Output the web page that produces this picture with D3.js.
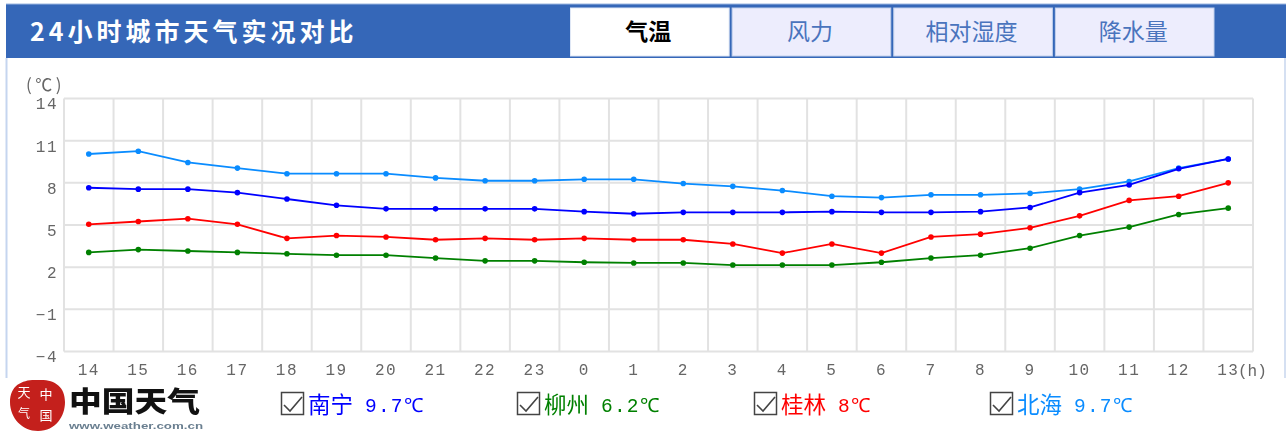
<!DOCTYPE html>
<html><head><meta charset="utf-8">
<script src="https://cdn.jsdelivr.net/npm/d3@7"></script>
<style>
html,body{margin:0;padding:0;background:#fff;overflow:hidden}
svg{display:block;filter:blur(0.35px)}
text{font-family:"Noto Sans CJK SC",sans-serif}
.num{font-family:"Liberation Mono",monospace}
.url{font-family:"Liberation Sans",sans-serif}
</style></head><body><div id="c"></div>
<script>
const hours=["14","15","16","17","18","19","20","21","22","23","0","1","2","3","4","5","6","7","8","9","10","11","12","13"];
const yTicks=[14,11,8,5,2,-1,-4];
const tabs=["气温","风力","相对湿度","降水量"];
const title="24小时城市天气实况对比";
const cityNames=["南宁","柳州","桂林","北海"];
const cityLabels=["9.7℃","6.2℃","8℃","9.7℃"];
const cityColors=["#0000ff","#008000","#ff0000","#0a8cff"];
const nanning=[7.65,7.55,7.55,7.3,6.85,6.4,6.15,6.15,6.15,6.15,5.95,5.8,5.9,5.9,5.9,5.95,5.9,5.9,5.95,6.25,7.3,7.85,9.0,9.7];
const liuzhou=[3.05,3.25,3.15,3.05,2.95,2.85,2.85,2.65,2.45,2.45,2.35,2.3,2.3,2.15,2.15,2.15,2.35,2.65,2.85,3.35,4.25,4.85,5.75,6.2];
const guilin=[5.05,5.25,5.45,5.05,4.05,4.25,4.15,3.95,4.05,3.95,4.05,3.95,3.95,3.65,3.0,3.65,3.0,4.15,4.35,4.8,5.65,6.75,7.05,8.0];
const beihai=[10.05,10.25,9.45,9.05,8.65,8.65,8.65,8.35,8.15,8.15,8.25,8.25,7.95,7.75,7.45,7.05,6.95,7.15,7.15,7.25,7.55,8.1,9.05,9.7];
const seriesList=[beihai,nanning,guilin,liuzhou];
const seriesColors=[cityColors[3],cityColors[0],cityColors[2],cityColors[1]];

const W=1286,H=435;
const svg=d3.select("#c").append("svg").attr("width",W).attr("height",H);
const blue="#3567b8";
// frame
svg.append("rect").attr("x",6).attr("y",4).attr("width",1280).attr("height",54).attr("fill",blue);
svg.append("line").attr("x1",6).attr("x2",1286).attr("y1",4).attr("y2",4).attr("stroke","#9db7e0").attr("stroke-width",1);
svg.append("line").attr("x1",6.5).attr("x2",6.5).attr("y1",58).attr("y2",378).attr("stroke","#c5d5ef").attr("stroke-width",2);
svg.append("line").attr("x1",1285).attr("x2",1285).attr("y1",58).attr("y2",378).attr("stroke","#d5e0f2").attr("stroke-width",2);
svg.append("text").attr("x",30).attr("y",41).attr("fill","#fff").attr("font-size",25).attr("font-weight",700)
  .attr("letter-spacing",4).text(title);
// tabs
const tabX=d3.scaleBand().domain(tabs).range([569,1215.5]).paddingInner(0);
tabs.forEach((t,i)=>{
  const g=svg.append("g");
  g.append("rect").attr("x",tabX(t)+1.5).attr("y",8).attr("width",tabX.bandwidth()-3).attr("height",48)
    .attr("fill",i==0?"#fff":"#ededfd").attr("stroke",i==0?"#dfe7f5":"#c3d1ec").attr("stroke-width",1);
  g.append("text").attr("x",tabX(t)+tabX.bandwidth()/2-1.5).attr("y",40).attr("text-anchor","middle")
    .attr("font-size",23).attr("font-weight",i==0?700:400).attr("fill",i==0?"#000":"#4a74bd").text(t);
});
// scales
const x=d3.scaleBand().domain(hours).range([64,1253]);
const y=d3.scaleLinear().domain([-4,14]).range([351.5,98.5]);
// grid
const grid=svg.append("g").attr("stroke","#e2e2e2").attr("stroke-width",2).attr("fill","none");
yTicks.forEach(v=>grid.append("line").attr("x1",64).attr("x2",1253).attr("y1",y(v)).attr("y2",y(v)));
hours.forEach(h=>grid.append("line").attr("x1",x(h)).attr("x2",x(h)).attr("y1",98.5).attr("y2",351.5));
grid.append("line").attr("x1",1253).attr("x2",1253).attr("y1",98.5).attr("y2",351.5);
// axes
const ax=svg.append("g").attr("transform","translate(0,351.5)")
  .call(d3.axisBottom(x).tickSize(0).tickPadding(0));
ax.select(".domain").remove();
ax.selectAll("text").attr("class","num").attr("font-size",16).attr("letter-spacing",1.5).attr("fill","#666")
  .attr("y",12.5).attr("dy","0.71em").attr("font-family",null);
const ay=svg.append("g").attr("transform","translate(58,0)")
  .call(d3.axisLeft(y).tickValues(yTicks).tickSize(0).tickPadding(0).tickFormat(d=>String(d).replace("-","−")));
ay.select(".domain").remove();
ay.selectAll("text").attr("class","num").attr("font-size",16).attr("letter-spacing",1.5).attr("fill","#666")
  .attr("x",0).attr("dy","0.71em").attr("y",-1).attr("font-family",null);
svg.append("text").attr("x",26).attr("y",91).attr("font-size",17).attr("letter-spacing",3.5).attr("fill","#666").text("(℃)");
svg.append("text").attr("x",1238).attr("y",376).attr("class","num").attr("font-size",16).attr("fill","#666").text("(h)");
// series
const line=d3.line().x((d,i)=>x(hours[i])+x.bandwidth()/2).y(d=>y(d));
seriesList.forEach((s,k)=>{
  const g=svg.append("g");
  g.append("path").attr("d",line(s)).attr("fill","none").attr("stroke",seriesColors[k]).attr("stroke-width",1.8);
  g.selectAll("circle").data(s).join("circle").attr("cx",(d,i)=>x(hours[i])+x.bandwidth()/2).attr("cy",d=>y(d))
    .attr("r",2.8).attr("fill",seriesColors[k]);
});
// legend
const legX=[281,517,754,990];
cityNames.forEach((n,i)=>{
  const g=svg.append("g").attr("transform",`translate(${legX[i]},392)`);
  g.append("rect").attr("x",0.5).attr("y",0.5).attr("width",22).attr("height",22).attr("fill","#fff").attr("stroke","#444").attr("stroke-width",1.5);
  g.append("path").attr("d","M3,13 L9,19 L21,5").attr("fill","none").attr("stroke","#444").attr("stroke-width",1.6);
  g.append("text").attr("x",27).attr("y",21).attr("font-size",22.5).attr("fill",cityColors[i]).text(n);
  g.append("text").attr("x",84).attr("y",20).attr("class","num").attr("font-size",19.5).attr("letter-spacing",1.2).attr("fill",cityColors[i]).text(cityLabels[i]);
});
// logo
const logo=svg.append("g");
logo.append("path").attr("d","M10,402 C10,384 24,379 38,380 C54,379 65,386 65,402 C65,416 56,431 38,431 C22,431 10,418 10,402 Z").attr("fill","#c4201c");
[["中",46,399,13],["国",46,420,13],["天",24,397,13],["气",24,418,12]].forEach(d=>{
  logo.append("text").attr("x",d[1]).attr("y",d[2]).attr("text-anchor","middle").attr("font-size",d[3]).attr("fill","#fff").text(d[0]);
});
logo.append("text").attr("x",69).attr("y",412).attr("font-size",28.5).attr("font-weight",900).attr("fill","#111")
  .attr("textLength",131).attr("lengthAdjust","spacingAndGlyphs").text("中国天气");
logo.append("text").attr("class","url").attr("x",69).attr("y",429).attr("font-size",9.5).attr("font-weight",700).attr("fill","#6a7f90")
  .attr("textLength",134).attr("lengthAdjust","spacingAndGlyphs").text("www.weather.com.cn");
</script></body></html>
